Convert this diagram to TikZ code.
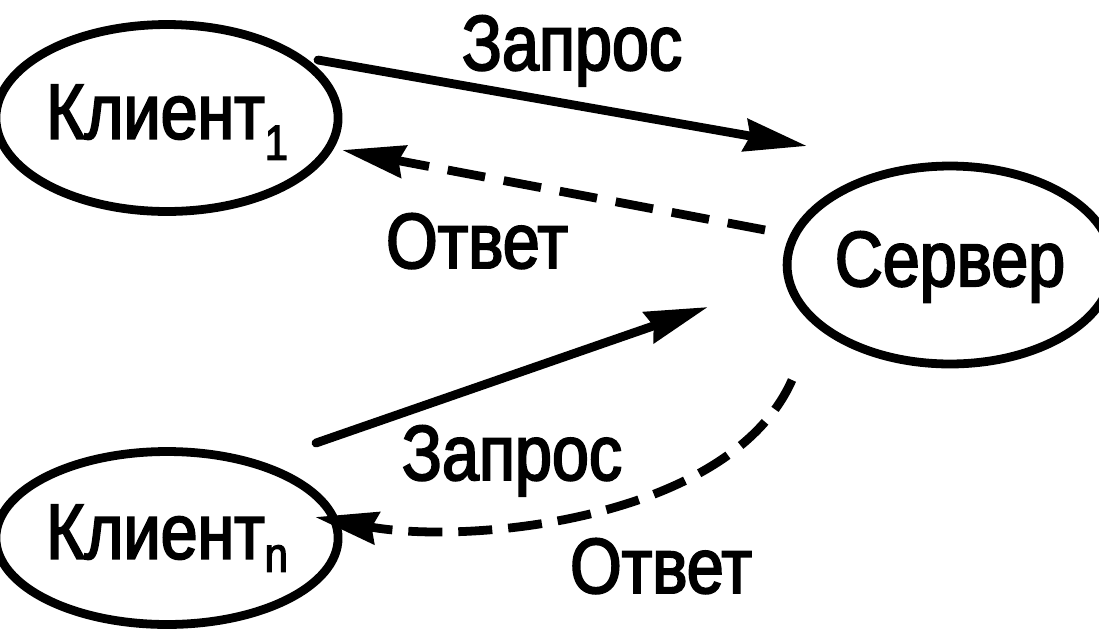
\documentclass[tikz,border=0pt]{standalone}
\usepackage{fontspec}
\setmainfont{Liberation Sans}[FakeStretch=0.85, BoldFont={Liberation Sans}, BoldFeatures={FakeBold=2.5}]
\usetikzlibrary{arrows.meta,shapes.geometric}
\newcommand{\bigtxt}{\fontsize{44.5}{50}\selectfont\bfseries}
\newcommand{\subtxt}{\fontsize{28}{30}\selectfont\bfseries}
\tikzset{
  ell/.style={draw, ellipse, line width=5pt, inner sep=0pt, text depth=0.25cm, font=\bigtxt},
  lbl/.style={anchor=base, inner sep=0pt, font=\bigtxt},
  req/.style={line width=5pt, -{Stealth[length=1.25cm,width=0.64cm,inset=0.1cm]}},
  resp/.style={req, dash pattern=on 0.76cm off 0.38cm},
  respb/.style={req, dash pattern=on 0.68cm off 0.32cm},
}
\begin{document}
\begin{tikzpicture}[x=0.02cm, y=-0.02cm]
\useasboundingbox (0,0) rectangle (1099,640);
\node[ell, minimum width=5.8cm, minimum height=3.74cm] (k1) at (167,118)
  {Клиент\smash{\raisebox{-0.42cm}{\subtxt 1}}};
\node[ell, minimum width=5.8cm, minimum height=3.96cm] (srv) at (950,265) {Сервер};
\node[ell, minimum width=5.86cm, minimum height=3.46cm] (kn) at (167,538)
  {Клиент\smash{\raisebox{-0.26cm}{\subtxt n}}};

\node[lbl] (l1) at (572,70) {Запрос};
\node[lbl] (l2) at (477,268) {Ответ};
\node[lbl] (l3) at (512,480) {Запрос};
\node[lbl] (l4) at (661,593) {Ответ};

\coordinate (q1s) at (318,60);
\coordinate (q1e) at (807,146);
\coordinate (a1s) at (765,230);
\coordinate (a1e) at (342,150);
\coordinate (q2s) at (316,443);
\coordinate (q2e) at (708,307);
\coordinate (a2s) at (792,380);
\coordinate (a2e) at (315,517);

\draw[req, line cap=round] (q1s) -- (q1e);
\draw[resp] (a1s) -- (a1e);
\draw[req, line cap=round] (q2s) -- (q2e);
\draw[respb] (a2s) .. controls (730,520) and (470,545) .. (a2e);
\end{tikzpicture}
\end{document}
